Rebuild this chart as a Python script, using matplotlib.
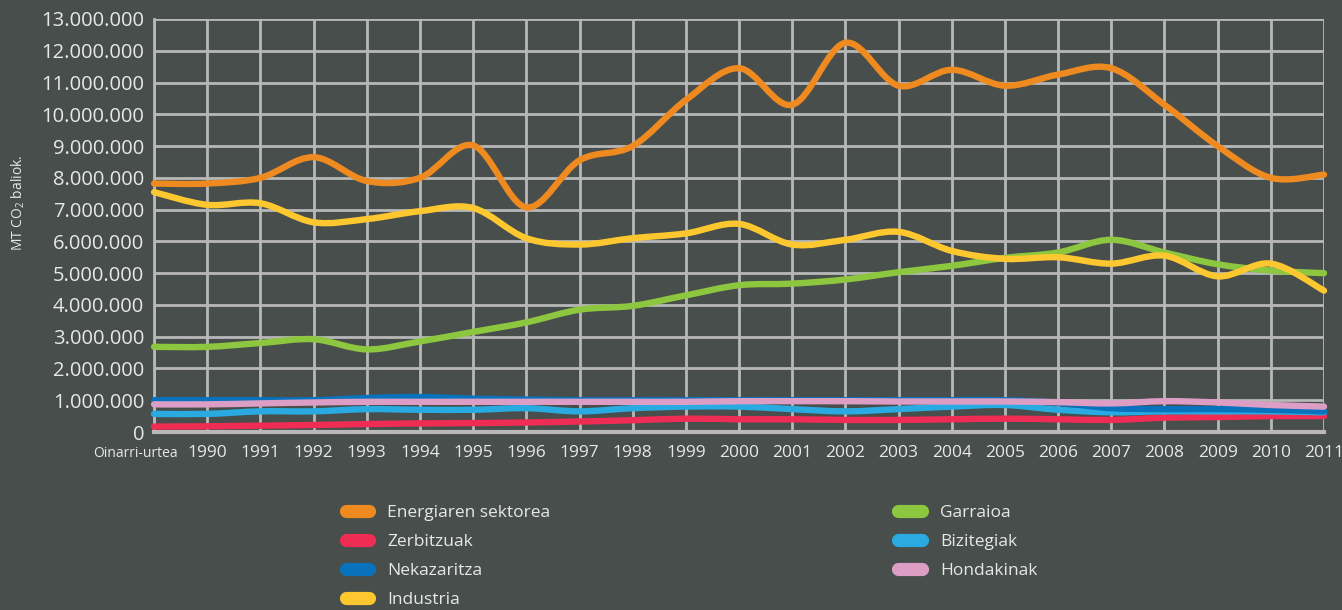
import matplotlib
matplotlib.use("Agg")
import matplotlib.pyplot as plt
import numpy as np
from matplotlib.path import Path
from matplotlib.patches import PathPatch
from matplotlib.lines import Line2D
from matplotlib.ticker import FuncFormatter

# ---------------- data (MT CO2 equivalents) ----------------
years = ["Oinarri-urtea", "1990", "1991", "1992", "1993", "1994", "1995", "1996",
         "1997", "1998", "1999", "2000", "2001", "2002", "2003", "2004", "2005",
         "2006", "2007", "2008", "2009", "2010", "2011"]

energia = [7.82, 7.82, 8.0, 8.65, 7.9, 8.0, 9.02, 7.07, 8.55, 9.0, 10.45, 11.45,
           10.3, 12.25, 10.9, 11.4, 10.9, 11.25, 11.45, 10.3, 9.0, 8.0, 8.1]
industria = [7.55, 7.15, 7.2, 6.6, 6.7, 6.95, 7.05, 6.1, 5.9, 6.1, 6.25, 6.55,
             5.9, 6.05, 6.3, 5.7, 5.45, 5.5, 5.3, 5.55, 4.9, 5.3, 4.45]
garraioa = [2.68, 2.68, 2.8, 2.92, 2.6, 2.85, 3.15, 3.45, 3.85, 3.97, 4.3, 4.62,
            4.67, 4.8, 5.03, 5.23, 5.48, 5.65, 6.05, 5.65, 5.28, 5.08, 5.0]
nekazaritza = [1.0, 1.0, 1.0, 1.0, 1.07, 1.1, 1.05, 1.02, 1.0, 1.0, 1.0, 1.0,
               1.0, 1.0, 1.0, 1.0, 1.0, 0.92, 0.75, 0.72, 0.72, 0.7, 0.65]
hondakinak = [0.87, 0.87, 0.9, 0.93, 0.95, 0.95, 0.95, 0.95, 0.95, 0.95, 0.95, 0.97,
              0.97, 0.97, 0.96, 0.96, 0.96, 0.94, 0.9, 0.97, 0.93, 0.85, 0.8]
bizitegiak = [0.57, 0.57, 0.65, 0.65, 0.72, 0.7, 0.7, 0.75, 0.65, 0.75, 0.8, 0.8,
              0.72, 0.65, 0.72, 0.8, 0.85, 0.7, 0.62, 0.65, 0.65, 0.65, 0.62]
zerbitzuak = [0.17, 0.18, 0.2, 0.22, 0.25, 0.27, 0.28, 0.3, 0.33, 0.37, 0.42, 0.4,
              0.4, 0.38, 0.38, 0.4, 0.42, 0.4, 0.38, 0.45, 0.47, 0.5, 0.5]

# ---------------- style ----------------
bg = "#474e4b"
grid_c = "#b8b8b8"
txt_c = "#e8e8e8"
plt.rcParams["font.family"] = ["Open Sans", "DejaVu Sans"]
plt.rcParams["mathtext.fontset"] = "custom"
plt.rcParams["mathtext.rm"] = "Open Sans"

series = [  # label, values, colour, z-order
    ("Energiaren sektorea", energia, "#ee8a1f", 9),
    ("Zerbitzuak", zerbitzuak, "#ef2c53", 3),
    ("Nekazaritza", nekazaritza, "#0872bc", 5),
    ("Industria", industria, "#fdc82f", 8),
    ("Garraioa", garraioa, "#8dc63f", 7),
    ("Bizitegiak", bizitegiak, "#29abe2", 4),
    ("Hondakinak", hondakinak, "#dd9ec6", 6),
]


def smooth_path(x, y):
    """Catmull-Rom curve through the points as cubic bezier segments"""
    x = np.asarray(x, float)
    y = np.asarray(y, float)
    pts = np.column_stack([x, y])
    verts = [pts[0]]
    codes = [Path.MOVETO]
    n = len(pts)
    for i in range(n - 1):
        p0 = pts[max(i - 1, 0)]
        p1 = pts[i]
        p2 = pts[i + 1]
        p3 = pts[min(i + 2, n - 1)]
        c1 = p1 + (p2 - p0) / 6.0
        c2 = p2 - (p3 - p1) / 6.0
        verts += [c1, c2, p2]
        codes += [Path.CURVE4] * 3
    return Path(verts, codes)


fig = plt.figure(figsize=(13.42, 6.10), dpi=100, facecolor=bg)
ax = fig.add_axes([0.1148, 0.2918, 0.8718, 0.6771])
ax.set_facecolor(bg)

x = np.arange(len(years))
for label, vals, col, z in series:
    vals_mt = np.array(vals) * 1e6
    p = PathPatch(smooth_path(x, vals_mt), facecolor="none", edgecolor=col,
                  lw=4.6, capstyle="round", joinstyle="round", zorder=z,
                  clip_on=False)
    ax.add_patch(p)

ax.set_xlim(0, len(years) - 1)
ax.set_ylim(0, 13e6)
ax.set_xticks(x)
ax.set_xticklabels([""] + years[1:])
ax.set_yticks(np.arange(0, 13e6 + 1, 1e6))
ax.yaxis.set_major_formatter(FuncFormatter(lambda v, p: f"{v:,.0f}".replace(",", ".")))
ax.grid(True, color=grid_c, lw=2, zorder=1)
ax.set_axisbelow(True)
for s in ["top", "right"]:
    ax.spines[s].set_visible(False)
ax.spines["left"].set_color(grid_c)
ax.spines["left"].set_linewidth(2)
ax.spines["bottom"].set_color(grid_c)
ax.spines["bottom"].set_linewidth(3)
ax.tick_params(axis="both", length=0, colors=txt_c)
ax.tick_params(axis="y", labelsize=14.5, pad=7)
ax.tick_params(axis="x", labelsize=12.5, pad=9)

# base-year label, smaller and shifted left
ax.text(0.45, -0.053, "Oinarri-urtea", transform=ax.get_xaxis_transform(),
        ha="right", va="center", fontsize=10, color=txt_c)

fig.text(18 / 1342, 1 - 203 / 610, "MT CO$_2$ baliok.", rotation=90,
         ha="center", va="center", fontsize=10, color=txt_c)

# legend in two columns
handles = [Line2D([0], [0], color=col, lw=9.5, solid_capstyle="round")
           for _, _, col, _ in series]
labels = [s[0] for s in series]
leg = fig.legend(handles, labels, ncol=2, loc="upper left",
                 bbox_to_anchor=(0.2575, 0.173), frameon=False,
                 fontsize=12.5, labelcolor=txt_c, handlelength=1.35,
                 handletextpad=1.05, labelspacing=0.74, columnspacing=20.05,
                 borderaxespad=0, borderpad=0)

fig.savefig("out.png", dpi=100, facecolor=bg)
